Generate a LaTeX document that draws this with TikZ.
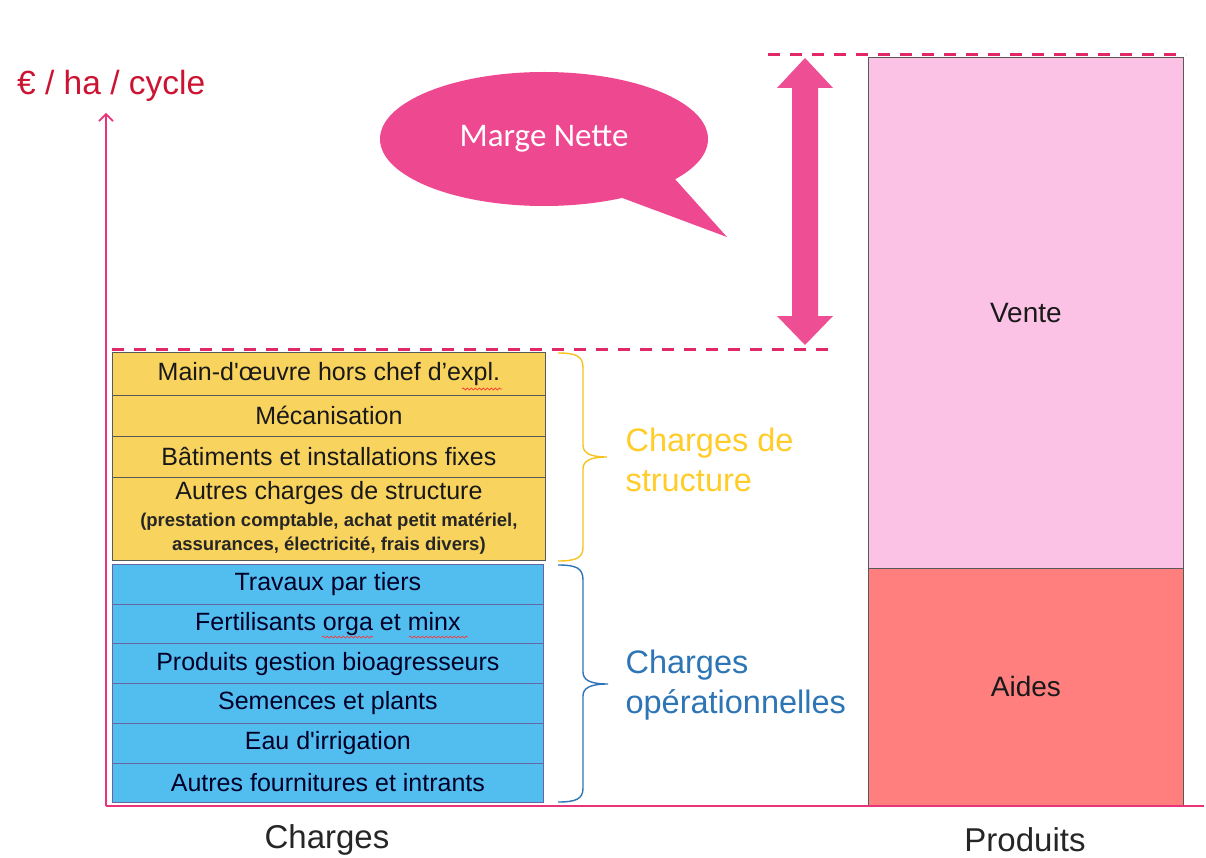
\documentclass[tikz,border=0pt]{standalone}
\usepackage{fontspec}
\setmainfont{Liberation Sans}
\newfontfamily\calibri{Carlito}
\usetikzlibrary{shapes.geometric,decorations.pathmorphing,calc,arrows.meta}
\definecolor{axispink}{RGB}{232,52,120}
\definecolor{titlered}{RGB}{204,20,50}
\definecolor{dashpink}{RGB}{224,40,100}
\definecolor{calloutpink}{RGB}{238,72,145}
\definecolor{arrowpink}{RGB}{238,79,148}
\definecolor{cyel}{RGB}{248,211,94}
\definecolor{cblue}{RGB}{82,190,240}
\definecolor{ventepink}{RGB}{252,194,230}
\definecolor{aidesred}{RGB}{255,127,127}
\definecolor{gold}{RGB}{247,195,30}
\definecolor{goldtext}{RGB}{255,204,40}
\definecolor{bluetext}{RGB}{46,117,182}
\tikzset{
  axisline/.style={draw=axispink, line width=1.6pt},
  dashline/.style={draw=dashpink, line width=3pt, dash pattern=on 12pt off 10pt},
  ybox/.style={draw=black!65, line width=0.8pt, fill=cyel, minimum width=433pt, anchor=north west, inner sep=0pt, font=\fontsize{25}{29}\selectfont, text=black!90},
  bbox/.style={draw=black!60!blue!60, line width=0.8pt, fill=cblue, minimum width=431pt, minimum height=39.7pt, anchor=north west, inner sep=0pt, font=\fontsize{25}{29}\selectfont, text=black!85!blue},
  prodbox/.style={draw=black!65, line width=0.8pt, minimum width=315pt, anchor=north west, inner sep=0pt, font=\fontsize{28}{31}\selectfont, text=black!90},
  bracegold/.style={draw=gold, line width=1.4pt},
  braceblue/.style={draw=bluetext, line width=1.4pt},
  grouplabel/.style={anchor=west, align=left, font=\fontsize{32.5}{40}\selectfont},
  axislabel/.style={font=\fontsize{33}{38}\selectfont, text=black!85},
  squiggle/.style={draw=red!80, line width=0.7pt, decorate, decoration={snake, amplitude=1pt, segment length=4pt}}
}
\begin{document}
\begin{tikzpicture}[x=1pt,y=-1pt]
\useasboundingbox[fill=white] (0,0) rectangle (1206,858);

% unit label
\node[anchor=west, text=titlered, font=\fontsize{33.5}{38}\selectfont, inner sep=0pt] (unit) at (17,86) {€ / ha / cycle};

% product columns
\node[prodbox, fill=ventepink, minimum height=511pt] (vente) at (868,57) {Vente};
\node[prodbox, fill=aidesred, minimum height=237pt] (aides) at (868,568) {Aides};

% axes
\coordinate (O) at (106,806);
\coordinate (ytop) at (106,113);
\coordinate (xend) at (1204,806);
\draw[axisline, -{Straight Barb[length=7pt,width=14pt]}] (O) -- (ytop);
\draw[axisline] (O) -- (xend);

% structure charges
\node[ybox, minimum height=43pt] (y1) at (112,352) {Main-d\textquotesingle œuvre hors chef d’expl.};
\node[ybox, minimum height=41pt] (y2) at (112,395) {Mécanisation};
\node[ybox, minimum height=41pt] (y3) at (112,436) {Bâtiments et installations fixes};
\node[ybox, minimum height=83pt] (y4) at (112,477) {};
\node[font=\fontsize{25}{29}\selectfont, text=black!90, inner sep=0pt] (y4a) at ($(y4.north)+(0,16)$) {Autres charges de structure};
\node[font=\fontsize{18.5}{22}\selectfont\bfseries, text=black!85, inner sep=0pt] (y4b) at ($(y4.north)+(0,45)$) {(prestation comptable, achat petit matériel,};
\node[font=\fontsize{18.5}{22}\selectfont\bfseries, text=black!85, inner sep=0pt] (y4c) at ($(y4.north)+(0,69)$) {assurances, électricité, frais divers)};

% operational charges
\node[bbox] (b1) at (112,564) {Travaux par tiers};
\node[bbox] (b2) at (112,603.7) {Fertilisants orga et minx};
\node[bbox] (b3) at (112,643.4) {Produits gestion bioagresseurs};
\node[bbox] (b4) at (112,683.1) {Semences et plants};
\node[bbox] (b5) at (112,722.8) {Eau d\textquotesingle irrigation};
\node[bbox] (b6) at (112,762.5) {Autres fournitures et intrants};

% spell-check squiggles
\draw[squiggle] (462,389) -- (502,389);
\draw[squiggle] (322,637) -- (373,637);
\draw[squiggle] (409,637) -- (468,637);

% dashed reference lines
\draw[dashline] (768,55) -- (1186,55);
\draw[dashline] (112,349) -- (836,349);

% double arrow (net margin)
\fill[arrowpink] (805,58) -- (833,88) -- (818,88) -- (818,316) -- (833,316) -- (805,345)
  -- (777,316) -- (792,316) -- (792,88) -- (777,88) -- cycle;

% callout
\fill[calloutpink] (640,170) -- (674,178) -- (727,237) -- (617,196) -- cycle;
\node[ellipse, fill=calloutpink, minimum width=328pt, minimum height=134pt, inner sep=0pt,
  text=white, font=\calibri\fontsize{33}{36}\selectfont] (mn) at (544,139) {Marge Nette};

% braces
\draw[bracegold] (558,353) .. controls (576,353) and (583,356) .. (583,368) -- (583,445)
  .. controls (583,453) and (590,457) .. (607,457)
  .. controls (590,457) and (583,461) .. (583,469) -- (583,547)
  .. controls (583,558) and (576,561) .. (558,561);
\draw[braceblue] (558,565) .. controls (576,565) and (583,568) .. (583,580) -- (583,672)
  .. controls (583,680) and (590,684) .. (608,684)
  .. controls (590,684) and (583,688) .. (583,696) -- (583,788)
  .. controls (583,799) and (576,802) .. (558,802);

\node[grouplabel, text=goldtext] (cs) at (622,460) {Charges de\\structure};
\node[grouplabel, text=bluetext] (co) at (622,685) {Charges\\opérationnelles};

% axis categories
\node[axislabel] (charges) at (327,840) {Charges};
\node[axislabel] (produits) at (1025,840) {Produits};
\end{tikzpicture}
\end{document}
